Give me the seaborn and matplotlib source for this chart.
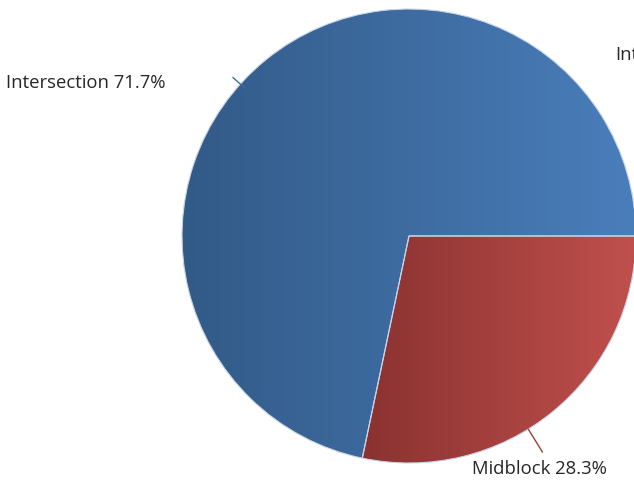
import numpy as np
import matplotlib
matplotlib.use("Agg")
import matplotlib.pyplot as plt
import seaborn as sns
from matplotlib.colors import LinearSegmentedColormap

sns.set_theme(style="white")
plt.rcParams["font.family"] = ["Open Sans", "DejaVu Sans"]

# Crash location shares
categories = ["Midblock", "Intersection"]
shares = [28.3, 71.7]
legend_labels = ["Intersection", "Midblock"]

# Horizontal gradient end colours for each slice (dark -> light)
gradients = {
    "Midblock": ("#8a3230", "#c0504d"),
    "Intersection": ("#325a87", "#4a7ebb"),
}
leader_colors = {"Midblock": "#a03c3a", "Intersection": "#3a6ea5"}

W, H = 634, 481
fig = plt.figure(figsize=(W / 100, H / 100), dpi=100)
ax = fig.add_axes([0, 0, 1, 1])

cx, cy, r = 409, H - 237, 227

wedges, _ = ax.pie(
    shares,
    startangle=0,
    counterclock=False,
    radius=r,
    center=(cx, cy),
    frame=True,
    wedgeprops=dict(linewidth=0.8, edgecolor="#c8d4e6"),
)
ax.set_xlim(0, W)
ax.set_ylim(0, H)
ax.set_aspect("equal")
ax.axis("off")

# Fill each wedge with a left-to-right gradient clipped to its shape
for wedge, name in zip(wedges, categories):
    c0, c1 = gradients[name]
    cmap = LinearSegmentedColormap.from_list(name, [c0, c1])
    bb = wedge.get_path().get_extents(wedge.get_transform())
    inv = ax.transData.inverted()
    (x0, y0), (x1, y1) = inv.transform([(bb.x0, bb.y0), (bb.x1, bb.y1)])
    grad = np.linspace(0, 1, 256).reshape(1, -1)
    im = ax.imshow(grad, cmap=cmap, extent=(x0, x1, y0, y1),
                   aspect="auto", zorder=wedge.get_zorder() + 0.1,
                   interpolation="bilinear")
    im.set_clip_path(wedge)
    wedge.set_facecolor("none")
    wedge.set_zorder(wedge.get_zorder() + 0.2)

ax.set_xlim(0, W)
ax.set_ylim(0, H)

# Labels with short leader lines
label_specs = {
    "Intersection": dict(angle=138, r_in=221, r_out=237,
                         text_xy=(6, H - 83), ha="left"),
    "Midblock": dict(angle=-58.3, r_in=227, r_out=254,
                     text_xy=(472, H - 469), ha="left"),
}
for name, val in zip(categories, shares):
    s = label_specs[name]
    a = np.deg2rad(s["angle"])
    xs = [cx + s["r_in"] * np.cos(a), cx + s["r_out"] * np.cos(a)]
    ys = [cy + s["r_in"] * np.sin(a), cy + s["r_out"] * np.sin(a)]
    ax.plot(xs, ys, color=leader_colors[name], linewidth=1.0, zorder=5)
    ax.text(*s["text_xy"], f"{name} {val}%", ha=s["ha"], va="center",
            fontsize=13.3, color="#262626", zorder=6)

# Legend entry running off the right edge
ax.text(615, H - 55, legend_labels[0], ha="left", va="center",
        fontsize=13.3, color="#262626", zorder=6)

fig.savefig("out.png", dpi=100)
